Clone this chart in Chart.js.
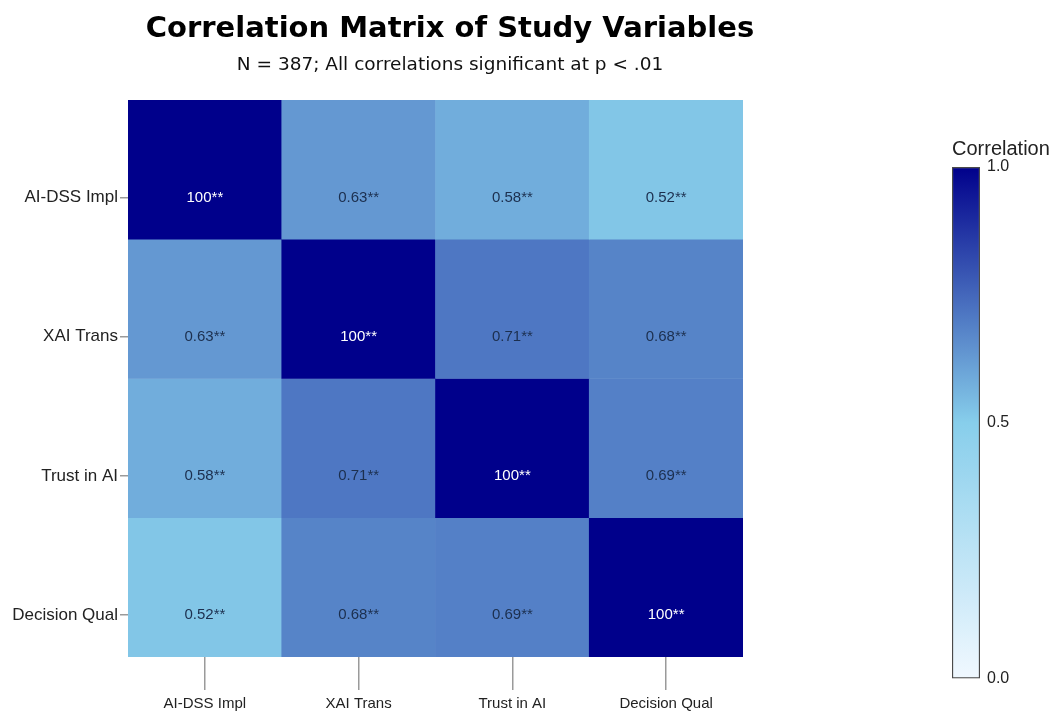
<!DOCTYPE html>
<html>
<head>
<meta charset="utf-8">
<title>Correlation Matrix of Study Variables</title>
<script src="https://cdn.jsdelivr.net/npm/chart.js@4/dist/chart.umd.min.js"></script>
<style>
  html, body { margin: 0; padding: 0; background: #ffffff; }
  body { width: 1061px; height: 714px; position: relative; overflow: hidden; }
  #matrix { position: absolute; left: 0; top: 0; }
  #scale { position: absolute; left: 940px; top: 129px; }
</style>
</head>
<body>
<canvas id="matrix" width="900" height="714"></canvas>
<canvas id="scale" width="121" height="566"></canvas>
<script>
// Variables (same order on both axes)
const variables = ['AI-DSS Impl', 'XAI Trans', 'Trust in AI', 'Decision Qual'];

// Correlation rows
const corrAIDSS    = [1.00, 0.63, 0.58, 0.52];
const corrXAI      = [0.63, 1.00, 0.71, 0.68];
const corrTrust    = [0.58, 0.71, 1.00, 0.69];
const corrDecision = [0.52, 0.68, 0.69, 1.00];
const matrixRows = [corrAIDSS, corrXAI, corrTrust, corrDecision];

// Colour bar ticks
const scaleTicks = [0.0, 0.5, 1.0];

// Row labels and cell values sit in the lower part of each row
const ROW_LABEL_POS = 0.7;

// Colour map: pale -> sky blue -> navy
const cmapStops = [
  [0.0, [240, 248, 255]],
  [0.5, [135, 206, 235]],
  [1.0, [0, 0, 139]]
];
function cmap(v) {
  for (let k = 1; k < cmapStops.length; k++) {
    const [v1, c1] = cmapStops[k];
    const [v0, c0] = cmapStops[k - 1];
    if (v <= v1) {
      const t = (v - v0) / (v1 - v0);
      const c = c0.map((a, i) => Math.round(a + (c1[i] - a) * t));
      return `rgb(${c[0]},${c[1]},${c[2]})`;
    }
  }
  const c = cmapStops[cmapStops.length - 1][1];
  return `rgb(${c[0]},${c[1]},${c[2]})`;
}
const cellLabel = v => (v === 1 ? '100' : v.toFixed(2)) + '**';

const SANS = '"Liberation Sans", Arial, sans-serif';

// One dataset per row; each cell is a floating bar spanning [row, row + 1]
const datasets = matrixRows.map((row, i) => ({
  label: variables[i],
  data: row.map(() => [i, i + 1]),
  values: row,
  backgroundColor: row.map(cmap),
  borderWidth: 0,
  grouped: false,
  barPercentage: 1.0,
  categoryPercentage: 1.0
}));

const cellText = {
  id: 'cellText',
  afterDatasetsDraw(chart) {
    const ctx = chart.ctx;
    const yScale = chart.scales.y;
    ctx.save();
    ctx.font = '15px ' + SANS;
    ctx.textAlign = 'center';
    ctx.textBaseline = 'middle';
    chart.data.datasets.forEach((ds, i) => {
      const ty = yScale.getPixelForValue(i + ROW_LABEL_POS);
      chart.getDatasetMeta(i).data.forEach((el, j) => {
        const v = ds.values[j];
        ctx.fillStyle = v > 0.85 ? '#ffffff' : '#1c2f4e';
        ctx.fillText(cellLabel(v), el.x, ty);
      });
    });
    ctx.restore();
  }
};

new Chart(document.getElementById('matrix'), {
  type: 'bar',
  data: { labels: variables, datasets },
  options: {
    responsive: false,
    animation: false,
    layout: { padding: 0 },
    plugins: {
      legend: { display: false },
      tooltip: { enabled: false },
      title: {
        display: true,
        text: 'Correlation Matrix of Study Variables',
        color: '#000000',
        font: { family: '"DejaVu Sans", sans-serif', size: 29, weight: 'bold' },
        padding: { top: 12, bottom: 2 }
      },
      subtitle: {
        display: true,
        text: 'N = 387; All correlations significant at p < .01',
        color: '#111111',
        font: { family: '"DejaVu Sans", sans-serif', size: 18.5 },
        padding: { top: 5, bottom: 24 }
      }
    },
    scales: {
      x: {
        type: 'category',
        border: { display: false },
        grid: { display: true, drawOnChartArea: false, offset: false, tickLength: 33, color: '#9a9a9a', lineWidth: 1.5 },
        ticks: { color: '#222222', font: { family: SANS, size: 15 }, padding: 5, maxRotation: 0 },
        afterFit(scale) { scale.height = 57; }
      },
      y: {
        type: 'linear',
        min: 0,
        max: 4,
        reverse: true,
        border: { display: false },
        grid: { display: true, drawOnChartArea: false, tickLength: 8, color: '#9a9a9a', lineWidth: 1.5 },
        afterBuildTicks(scale) {
          scale.ticks = variables.map((_, i) => ({ value: i + ROW_LABEL_POS }));
        },
        ticks: {
          color: '#222222',
          font: { family: SANS, size: 17 },
          padding: 2,
          callback: v => variables[Math.floor(v)]
        },
        afterFit(scale) { scale.width = 128; }
      },
      // empty right-hand margin, keeps the titles centred on the full canvas
      yMargin: {
        type: 'linear',
        position: 'right',
        border: { display: false },
        grid: { display: false, drawTicks: false },
        ticks: { display: false },
        afterFit(scale) { scale.width = 157; }
      }
    }
  },
  plugins: [cellText]
});

// Colour bar: a single floating bar from 0 to 1 filled with the colour map
new Chart(document.getElementById('scale'), {
  type: 'bar',
  data: {
    labels: ['Correlation'],
    datasets: [{
      data: [[0, 1]],
      backgroundColor(context) {
        const area = context.chart.chartArea;
        if (!area) return cmap(0.5);
        const y = context.chart.scales.y;
        const g = context.chart.ctx.createLinearGradient(0, y.getPixelForValue(0), 0, y.getPixelForValue(1));
        for (let s = 0; s <= 20; s++) g.addColorStop(s / 20, cmap(s / 20));
        return g;
      },
      borderColor: '#4a4a4a',
      borderWidth: 1.5,
      borderSkipped: false,
      barPercentage: 1.0,
      categoryPercentage: 1.0
    }]
  },
  options: {
    responsive: false,
    animation: false,
    layout: { padding: { left: 12, right: 0, top: 0, bottom: 0 } },
    plugins: {
      legend: { display: false },
      tooltip: { enabled: false },
      title: {
        display: true,
        text: 'Correlation',
        align: 'start',
        color: '#222222',
        font: { family: SANS, size: 20, weight: 'normal' },
        padding: { top: 8, bottom: 6 }
      }
    },
    scales: {
      x: { display: false },
      y: {
        position: 'right',
        min: 0,
        max: 1,
        border: { display: false },
        grid: { display: false, drawTicks: false },
        afterBuildTicks(scale) { scale.ticks = scaleTicks.map(v => ({ value: v })); },
        ticks: { color: '#222222', font: { family: SANS, size: 16 }, padding: 7, callback: v => v.toFixed(1) },
        afterFit(scale) { scale.width = 81; }
      }
    }
  }
});
</script>
</body>
</html>
